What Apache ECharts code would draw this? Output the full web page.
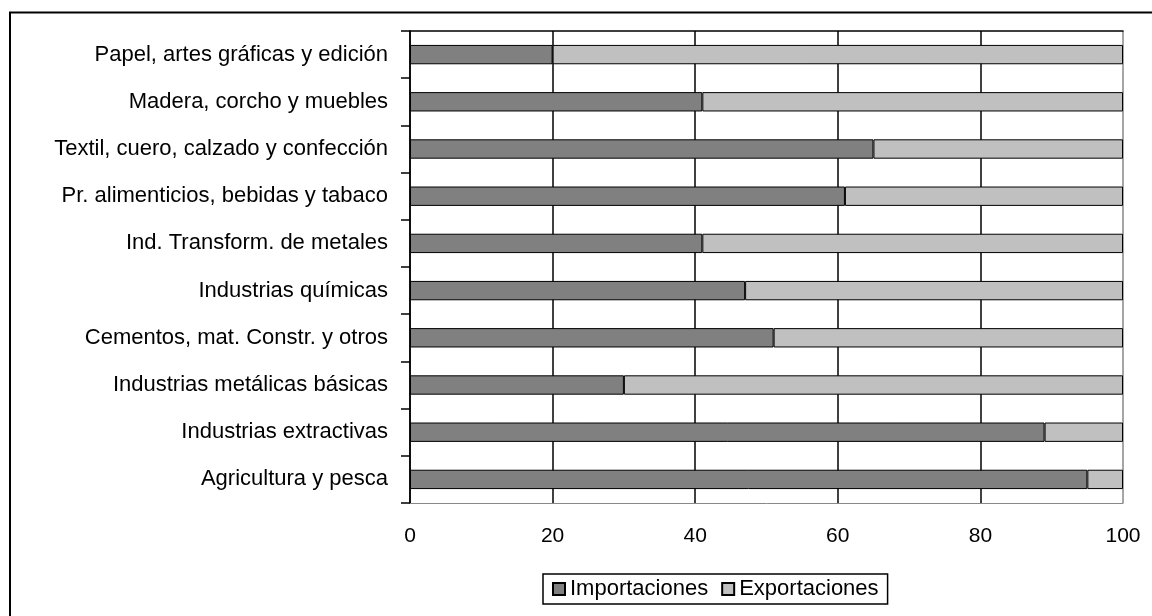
<!DOCTYPE html>
<html>
<head>
<meta charset="utf-8">
<script src="https://cdn.jsdelivr.net/npm/echarts@6/dist/echarts.min.js"></script>
<style>
html,body{margin:0;padding:0;background:#fff;}
#chart{width:1152px;height:616px;}
</style>
</head>
<body>
<div id="chart"></div>
<script>
const categories = [
  'Papel, artes gráficas y edición',
  'Madera, corcho y muebles',
  'Textil, cuero, calzado y confección',
  'Pr. alimenticios, bebidas y tabaco',
  'Ind. Transform. de metales',
  'Industrias químicas',
  'Cementos, mat. Constr. y otros',
  'Industrias metálicas básicas',
  'Industrias extractivas',
  'Agricultura y pesca'
];
const importaciones = [20, 41, 65, 61, 41, 47, 51, 30, 89, 95];
const exportaciones = [80, 59, 35, 39, 59, 53, 49, 70, 11, 5];
const xTicks = [0, 20, 40, 60, 80, 100];

const FONT = "'Liberation Sans', Arial, sans-serif";
const chart = echarts.init(document.getElementById('chart'));
chart.setOption({
  animation: false,
  backgroundColor: '#fff',
  textStyle: { fontFamily: FONT },
  graphic: [{
    type: 'rect',
    shape: { x: 10, y: 12.5, width: 1300, height: 800 },
    style: { fill: 'none', stroke: '#000', lineWidth: 2 },
    z: 0, silent: true
  }],
  grid: { left: 410, top: 31, width: 713, height: 472, containLabel: false },
  legend: {
    left: 543, top: 574,
    orient: 'horizontal',
    itemWidth: 12, itemHeight: 12, itemGap: 13,
    icon: 'rect',
    padding: [4, 9, 4, 9],
    borderColor: '#000', borderWidth: 1.5,
    textStyle: { fontFamily: FONT, fontSize: 22, color: '#000' },
    data: ['Importaciones', 'Exportaciones']
  },
  xAxis: [{
    type: 'value', min: 0, max: 100, interval: 20,
    axisLine: { show: true, lineStyle: { color: '#888', width: 1 } },
    axisTick: { show: false },
    axisLabel: { color: '#000', fontSize: 21, fontFamily: FONT, margin: 23,
      formatter: v => xTicks.includes(v) ? String(v) : '' },
    splitLine: { show: true, lineStyle: { color: ['#000','#000','#000','#000','#000','#888'], width: 1.5 } }
  }, {
    type: 'value', min: 0, max: 100, position: 'top',
    axisLine: { show: true, onZero: false, lineStyle: { color: '#000', width: 1.5 } },
    axisTick: { show: false }, axisLabel: { show: false }, splitLine: { show: false }
  }],
  yAxis: {
    type: 'category', inverse: true, data: categories,
    axisLine: { show: true, lineStyle: { color: '#000', width: 1.5 } },
    axisTick: { show: true, inside: false, length: 9, lineStyle: { color: '#000', width: 1.5 } },
    axisLabel: { color: '#000', fontSize: 22, fontFamily: FONT, margin: 22 },
    splitLine: { show: false }
  },
  series: [{
    name: 'Importaciones', type: 'bar', stack: 'total', barWidth: '41%',
    data: importaciones,
    itemStyle: { color: '#808080', borderColor: '#000', borderWidth: 1 }
  }, {
    name: 'Exportaciones', type: 'bar', stack: 'total', barWidth: '41%',
    data: exportaciones,
    itemStyle: { color: '#c0c0c0', borderColor: '#000', borderWidth: 1 }
  }]
});
</script>
</body>
</html>
